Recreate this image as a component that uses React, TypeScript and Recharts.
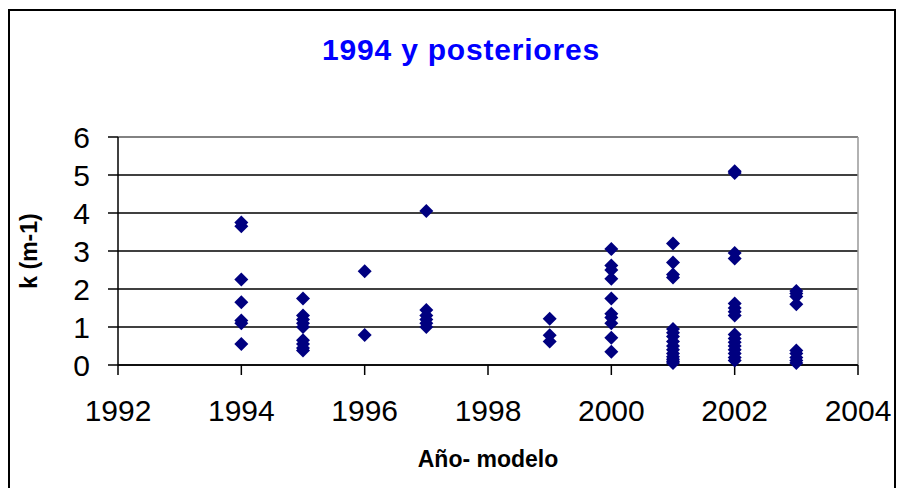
import { ScatterChart, Scatter, XAxis, YAxis, CartesianGrid, ReferenceLine } from 'recharts';

const years = [1994, 1995, 1996, 1997, 1999, 2000, 2001, 2002, 2003];
const k1994 = [3.75, 3.65, 2.25, 1.65, 1.17, 1.1, 0.55];
const k1995 = [1.75, 1.3, 1.2, 1.1, 1.0, 0.65, 0.55, 0.45, 0.38];
const k1996 = [2.47, 0.79];
const k1997 = [4.05, 1.45, 1.3, 1.2, 1.1, 1.0];
const k1999 = [1.22, 0.78, 0.62];
const k2000 = [3.05, 2.62, 2.5, 2.27, 1.75, 1.35, 1.25, 1.1, 0.72, 0.35];
const k2001 = [3.2, 2.7, 2.38, 2.3, 0.95, 0.85, 0.75, 0.62, 0.5, 0.4, 0.3, 0.22, 0.15, 0.1, 0.05];
const k2002 = [5.1, 5.05, 2.95, 2.8, 1.62, 1.5, 1.4, 1.3, 0.8, 0.7, 0.6, 0.5, 0.4, 0.3, 0.2, 0.12];
const k2003 = [1.95, 1.88, 1.8, 1.6, 0.38, 0.3, 0.2, 0.12, 0.05];
const valuesByYear = [k1994, k1995, k1996, k1997, k1999, k2000, k2001, k2002, k2003];

const xTicks = [1992, 1994, 1996, 1998, 2000, 2002, 2004];
const yTicks = [0, 1, 2, 3, 4, 5, 6];

const points = years.flatMap((year, i) => valuesByYear[i].map((k) => ({ year, k })));

const font = "'Liberation Sans', Arial, sans-serif";

const Diamond = (props: any) => {
  const { cx, cy } = props;
  const r = 7;
  return (
    <polygon
      points={`${cx},${cy - r} ${cx + r},${cy} ${cx},${cy + r} ${cx - r},${cy}`}
      fill="#000080"
    />
  );
};

const YLabel = (props: any) => {
  const { viewBox } = props;
  const x = viewBox.x - 9;
  const y = viewBox.y + viewBox.height / 2;
  return (
    <text
      x={x}
      y={y}
      transform={`rotate(-90 ${x} ${y})`}
      textAnchor="middle"
      dominantBaseline="central"
      fontFamily={font}
      fontWeight="bold"
      fontSize={23}
      fill="#000"
    >
      k (m-1)
    </text>
  );
};

const XLabel = (props: any) => {
  const { viewBox } = props;
  return (
    <text
      x={viewBox.x + viewBox.width / 2}
      y={viewBox.y + 102}
      textAnchor="middle"
      fontFamily={font}
      fontWeight="bold"
      fontSize={23}
      fill="#000"
    >
      Año- modelo
    </text>
  );
};

export default function App() {
  return (
    <div style={{ position: 'absolute', left: 0, top: 0, width: 902, height: 488, overflow: 'hidden', background: '#fff' }}>
      <div style={{ position: 'absolute', left: 8, top: 9, width: 884, height: 500, border: '2px solid #000' }} />
      <div
        style={{
          position: 'absolute',
          left: 461,
          top: 35,
          transform: 'translateX(-50%)',
          fontFamily: font,
          fontWeight: 'bold',
          fontSize: 30,
          letterSpacing: 0.8,
          lineHeight: 1,
          color: '#0000FF',
          whiteSpace: 'nowrap',
        }}
      >
        1994 y posteriores
      </div>
      <div style={{ position: 'absolute', left: 0, top: 0 }}>
        <ScatterChart width={902} height={488} margin={{ top: 137, right: 44, bottom: 43, left: 38 }}>
          <CartesianGrid vertical={false} stroke="#000" strokeWidth={1.5} />
          <ReferenceLine y={6} stroke="#999" strokeWidth={1.5} />
          <ReferenceLine x={2004} stroke="#999" strokeWidth={1.5} />
          <XAxis
            type="number"
            dataKey="year"
            domain={[1992, 2004]}
            ticks={xTicks}
            interval={0}
            height={80}
            tickSize={10}
            tickMargin={25}
            stroke="#000"
            strokeWidth={1.5}
            tick={{ fill: '#000', fontSize: 30, fontFamily: font }}
            label={<XLabel />}
          />
          <YAxis
            type="number"
            dataKey="k"
            domain={[0, 6]}
            ticks={yTicks}
            interval={0}
            width={80}
            tickSize={10}
            tickMargin={18}
            stroke="#000"
            strokeWidth={1.5}
            tick={{ fill: '#000', fontSize: 30, fontFamily: font }}
            label={<YLabel />}
          />
          <Scatter data={points} shape={<Diamond />} isAnimationActive={false} />
        </ScatterChart>
      </div>
    </div>
  );
}
